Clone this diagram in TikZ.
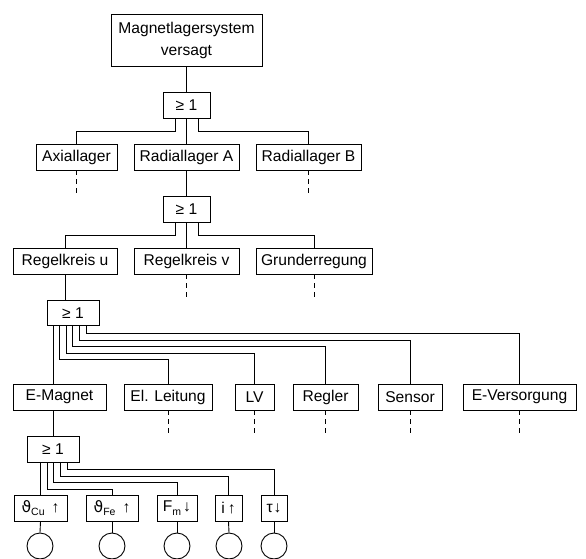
\documentclass[tikz,border=0pt]{standalone}
\usepackage{fontspec}
\setmainfont{Liberation Sans}
\newfontfamily\dvs{DejaVu Sans}
\newcommand{\sbs}[1]{\raisebox{-0.4ex}{\fontsize{10.5}{12}\selectfont #1}}
\begin{document}
\begin{tikzpicture}[x=1pt,y=-1pt,
  box/.style={draw, line width=0.9pt, inner sep=0pt, minimum height=26pt, font=\fontsize{15.6}{22}\selectfont, align=center},
  ln/.style={line width=0.9pt},
  dsh/.style={line width=0.9pt, dash pattern=on 5pt off 4pt}]
\useasboundingbox (0,0) rectangle (586,559);
% level 0
\node[box, minimum width=151pt, minimum height=52pt] (top) at (186.5,40) {Magnetlagersystem\\versagt};
\node[box, minimum width=47pt] (g1) at (186.5,105) {≥ 1};
% level 1
\node[box, minimum width=81pt] (axial) at (76.5,157) {Axiallager};
\node[box, minimum width=105pt] (radA) at (186.5,157) {Radiallager A};
\node[box, minimum width=105pt] (radB) at (308.5,157) {Radiallager B};
\node[box, minimum width=47pt] (g2) at (186.5,209) {≥ 1};
% level 2
\node[box, minimum width=104pt] (regu) at (65,261) {Regelkreis u};
\node[box, minimum width=105pt] (regv) at (186.5,261) {Regelkreis v};
\node[box, minimum width=116pt] (grund) at (314,261) {Grunderregung};
\node[box, minimum width=52pt, minimum height=25pt] (g3) at (73,313) {≥ 1};
% level 3
\node[box, minimum width=93pt] (emag) at (59.5,397) {E-Magnet};
\node[box, minimum width=88pt] (eleit) at (168,397) {El. Leitung};
\node[box, minimum width=39pt] (lv) at (254.5,397) {LV};
\node[box, minimum width=65pt] (regler) at (325.5,397) {Regler};
\node[box, minimum width=64pt] (sensor) at (410,397) {Sensor};
\node[box, minimum width=113pt] (ever) at (519.5,397) {E-Versorgung};
\node[box, minimum width=52pt] (g4) at (53,449) {≥ 1};
% level 4
\node[box, minimum width=53pt] (b1) at (40.5,508) {{\dvs ϑ}\sbs{Cu}\hspace{7pt}↑};
\node[box, minimum width=52pt] (b2) at (112,508) {{\dvs ϑ}\sbs{Fe}\hspace{7pt}↑};
\node[box, minimum width=40pt] (b3) at (177,508) {F\sbs{m}\hspace{2pt}↓};
\node[box, minimum width=27pt] (b4) at (228.5,508) {i\hspace{3pt}↑};
\node[box, minimum width=26pt] (b5) at (274,508) {τ\hspace{1pt}↓};
\foreach \i/\x in {1/40,2/112,3/177,4/229,5/274}
  \node[draw, line width=0.9pt, circle, minimum size=26pt, inner sep=0pt] (c\i) at (\x,546) {};
% connectors level 0-1
\draw[ln] (top.south) -- (g1.north);
\draw[ln] ([xshift=-11.5pt]g1.south) -- ++(0,13) -| (axial.north);
\draw[ln] (g1.south) -- (radA.north);
\draw[ln] ([xshift=11.5pt]g1.south) -- ++(0,13) -| (radB.north);
\draw[dsh] (axial.south) -- ++(0,25);
\draw[dsh] (radB.south) -- ++(0,25);
% level 1-2
\draw[ln] (radA.south) -- (g2.north);
\draw[ln] ([xshift=-11.5pt]g2.south) -- ++(0,13) -| (regu.north);
\draw[ln] (g2.south) -- (regv.north);
\draw[ln] ([xshift=11.5pt]g2.south) -- ++(0,13) -| (grund.north);
\draw[dsh] (regv.south) -- ++(0,25);
\draw[dsh] (grund.south) -- ++(0,25);
% level 2-3
\draw[ln] (regu.south) -- (regu.south |- g3.north);
\draw[ln] ([xshift=-20pt]g3.south) -- ([xshift=-20pt]g3.south |- emag.north);
\draw[ln] ([xshift=-14pt]g3.south) -- ++(0,33) -| (eleit.north);
\draw[ln] ([xshift=-7pt]g3.south) -- ++(0,27) -| (lv.north);
\draw[ln] ([xshift=-1pt]g3.south) -- ++(0,20) -| (regler.north);
\draw[ln] ([xshift=6pt]g3.south) -- ++(0,14) -| (sensor.north);
\draw[ln] ([xshift=13pt]g3.south) -- ++(0,7) -| (ever.north);
\foreach \n in {eleit,lv,regler,sensor,ever}
  \draw[dsh] (\n.south) -- ++(0,25);
% level 3-4
\draw[ln] (g4.north) -- (g4.north |- emag.south);
\draw[ln] ([xshift=-13pt]g4.south) -- ([xshift=-13pt]g4.south |- b1.north);
\draw[ln] ([xshift=-6pt]g4.south) -- ++(0,27) -| (b2.north);
\draw[ln] (g4.south) -- ++(0,20) -| (b3.north);
\draw[ln] ([xshift=7pt]g4.south) -- ++(0,14) -| (b4.north);
\draw[ln] ([xshift=14pt]g4.south) -- ++(0,7) -| (b5.north);
\foreach \i in {1,...,5}
  \draw[ln] (b\i.south) -- (c\i.north);
\end{tikzpicture}
\end{document}
